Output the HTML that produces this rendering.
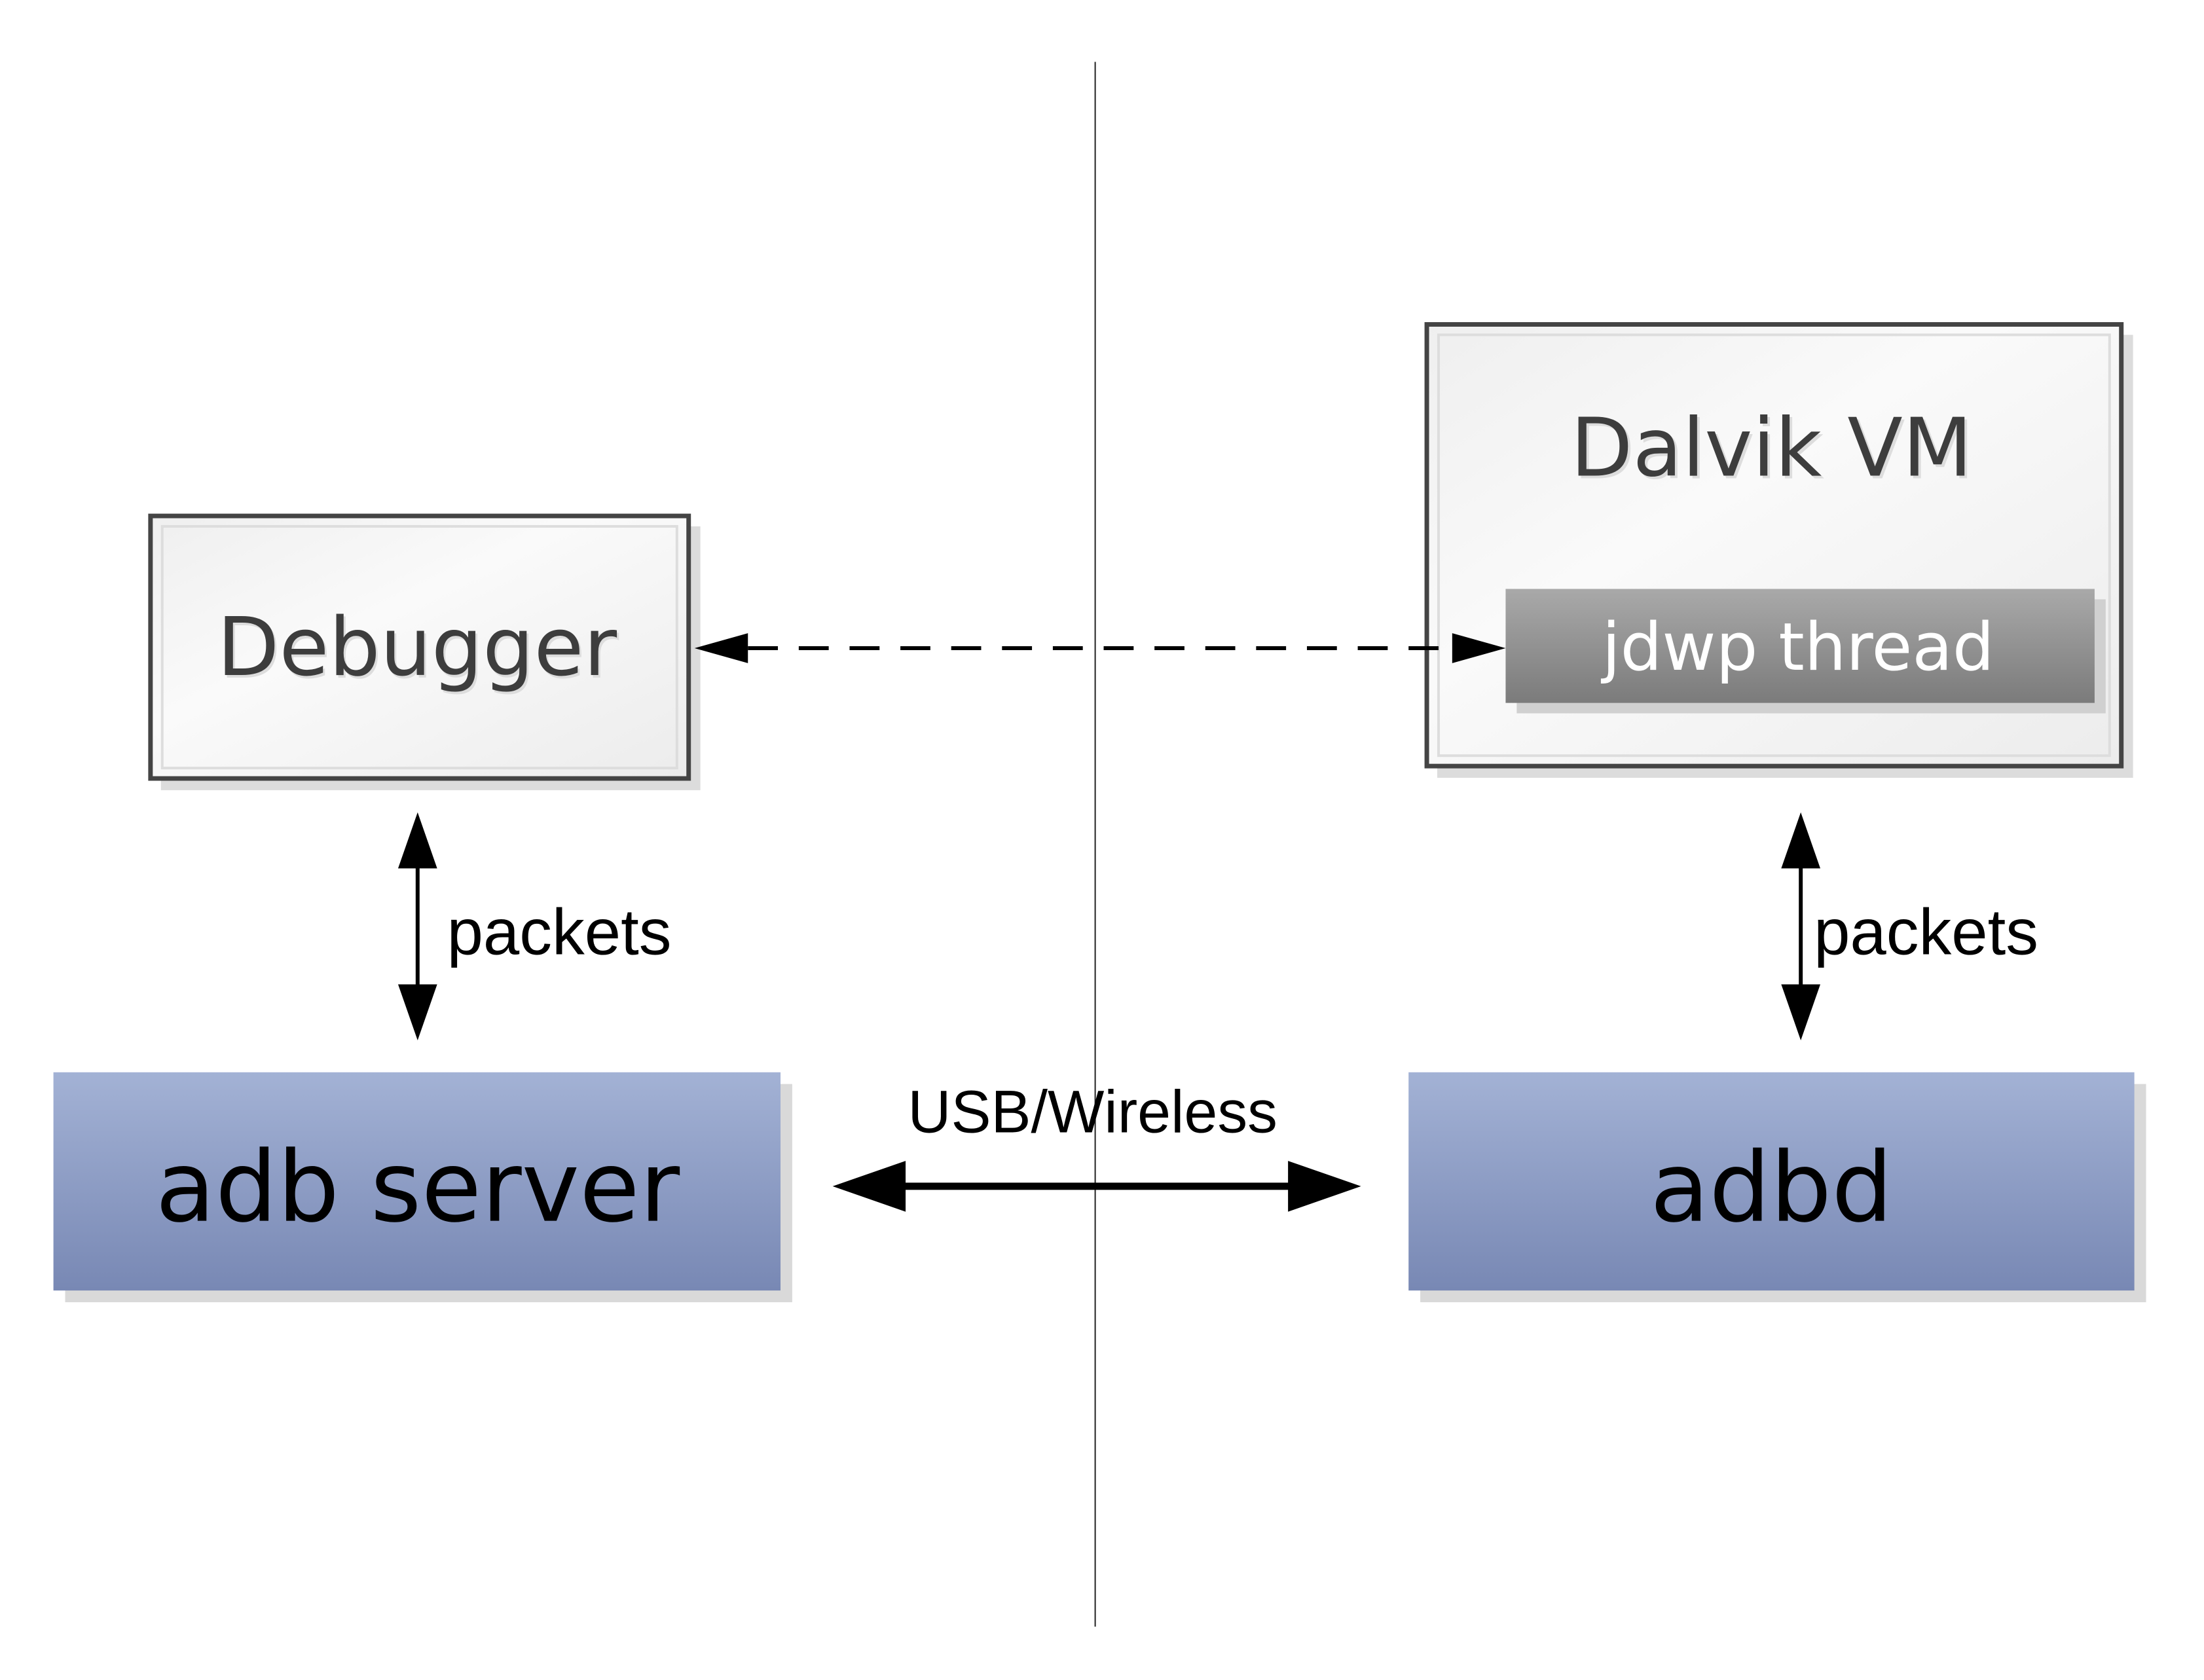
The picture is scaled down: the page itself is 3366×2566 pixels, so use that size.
<!DOCTYPE html>
<html><head><meta charset="utf-8"><style>html,body{margin:0;padding:0;background:#fff}svg{display:block}</style></head>
<body>
<svg width="3366" height="2566" viewBox="0 0 3366 2566" xmlns="http://www.w3.org/2000/svg">
<defs>
<linearGradient id="blue" x1="0" y1="0" x2="0" y2="1"><stop offset="0" stop-color="#a3b2d5"/><stop offset="1" stop-color="#7888b4"/></linearGradient>
<linearGradient id="gray" x1="0" y1="0" x2="0" y2="1"><stop offset="0" stop-color="#a9a9a9"/><stop offset="1" stop-color="#7b7b7b"/></linearGradient>
<linearGradient id="light" x1="0" y1="0" x2="1" y2="1"><stop offset="0" stop-color="#efefef"/><stop offset="0.4" stop-color="#fafafa"/><stop offset="1" stop-color="#ececec"/></linearGradient>
</defs>
<g transform="scale(0.995)">
<line x1="1681" y1="95" x2="1681" y2="2497" stroke="#222" stroke-width="2"/>
<!-- Debugger -->
<rect x="247" y="808" width="828" height="405" fill="#dcdcdc"/>
<rect x="231" y="792" width="826" height="403" fill="url(#light)" stroke="#444" stroke-width="7"/>
<rect x="249" y="808" width="790" height="371" fill="none" stroke="#ddd" stroke-width="4"/>
<text x="643" y="1040" text-anchor="middle" font-family="DejaVu Sans, sans-serif" font-size="124" fill="#ddd">Debugger</text>
<text x="640" y="1036" text-anchor="middle" font-family="DejaVu Sans, sans-serif" font-size="124" fill="#3d3d3d">Debugger</text>
<!-- Dalvik -->
<rect x="2206" y="514" width="1068" height="680" fill="#dcdcdc"/>
<rect x="2190" y="498" width="1066" height="678" fill="url(#light)" stroke="#444" stroke-width="7"/>
<rect x="2208" y="514" width="1030" height="646" fill="none" stroke="#ddd" stroke-width="4"/>
<text x="2723" y="734" text-anchor="middle" font-family="DejaVu Sans, sans-serif" font-size="124" fill="#ddd">Dalvik VM</text>
<text x="2719" y="730" text-anchor="middle" font-family="DejaVu Sans, sans-serif" font-size="124" fill="#3d3d3d">Dalvik VM</text>
<rect x="2328" y="920" width="904" height="175" fill="#d0d0d0"/>
<rect x="2311" y="904" width="904" height="175" fill="url(#gray)"/>
<text x="2760" y="1028" text-anchor="middle" font-family="DejaVu Sans, sans-serif" font-size="101" fill="#fff">jdwp thread</text>
<!-- dashed -->
<line x1="1148" y1="995" x2="2229" y2="995" stroke="#000" stroke-width="6" stroke-dasharray="46,32"/>
<polygon points="1066,995 1148,972 1148,1018" fill="#000"/>
<polygon points="2311,995 2229,972 2229,1018" fill="#000"/>
<!-- adb server -->
<rect x="100" y="1664" width="1116" height="335" fill="#d9d9d9"/>
<rect x="82" y="1646" width="1116" height="335" fill="url(#blue)"/>
<text x="641" y="1874" text-anchor="middle" font-family="DejaVu Sans, sans-serif" font-size="150" fill="#000">adb server</text>
<!-- adbd -->
<rect x="2180" y="1664" width="1114" height="335" fill="#d9d9d9"/>
<rect x="2162" y="1646" width="1114" height="335" fill="url(#blue)"/>
<text x="2719" y="1874" text-anchor="middle" font-family="DejaVu Sans, sans-serif" font-size="148" fill="#000">adbd</text>
<!-- vertical arrows -->
<line x1="641" y1="1320" x2="641" y2="1520" stroke="#000" stroke-width="6"/>
<polygon points="641,1247 611,1333 671,1333" fill="#000"/>
<polygon points="641,1597 611,1511 671,1511" fill="#000"/>
<text x="686" y="1465" font-family="Liberation Sans, sans-serif" font-size="100" fill="#000">packets</text>
<line x1="2764" y1="1320" x2="2764" y2="1520" stroke="#000" stroke-width="6"/>
<polygon points="2764,1247 2734,1333 2794,1333" fill="#000"/>
<polygon points="2764,1597 2734,1511 2794,1511" fill="#000"/>
<text x="2784" y="1465" font-family="Liberation Sans, sans-serif" font-size="100" fill="#000">packets</text>
<!-- USB -->
<line x1="1380" y1="1821" x2="1990" y2="1821" stroke="#000" stroke-width="11"/>
<polygon points="1278,1821 1390,1782 1390,1860" fill="#000"/>
<polygon points="2089,1821 1977,1782 1977,1860" fill="#000"/>
<text x="1677" y="1738" text-anchor="middle" font-family="Liberation Sans, sans-serif" font-size="92" fill="#000">USB/Wireless</text>
</g>
</svg>
</body></html>
